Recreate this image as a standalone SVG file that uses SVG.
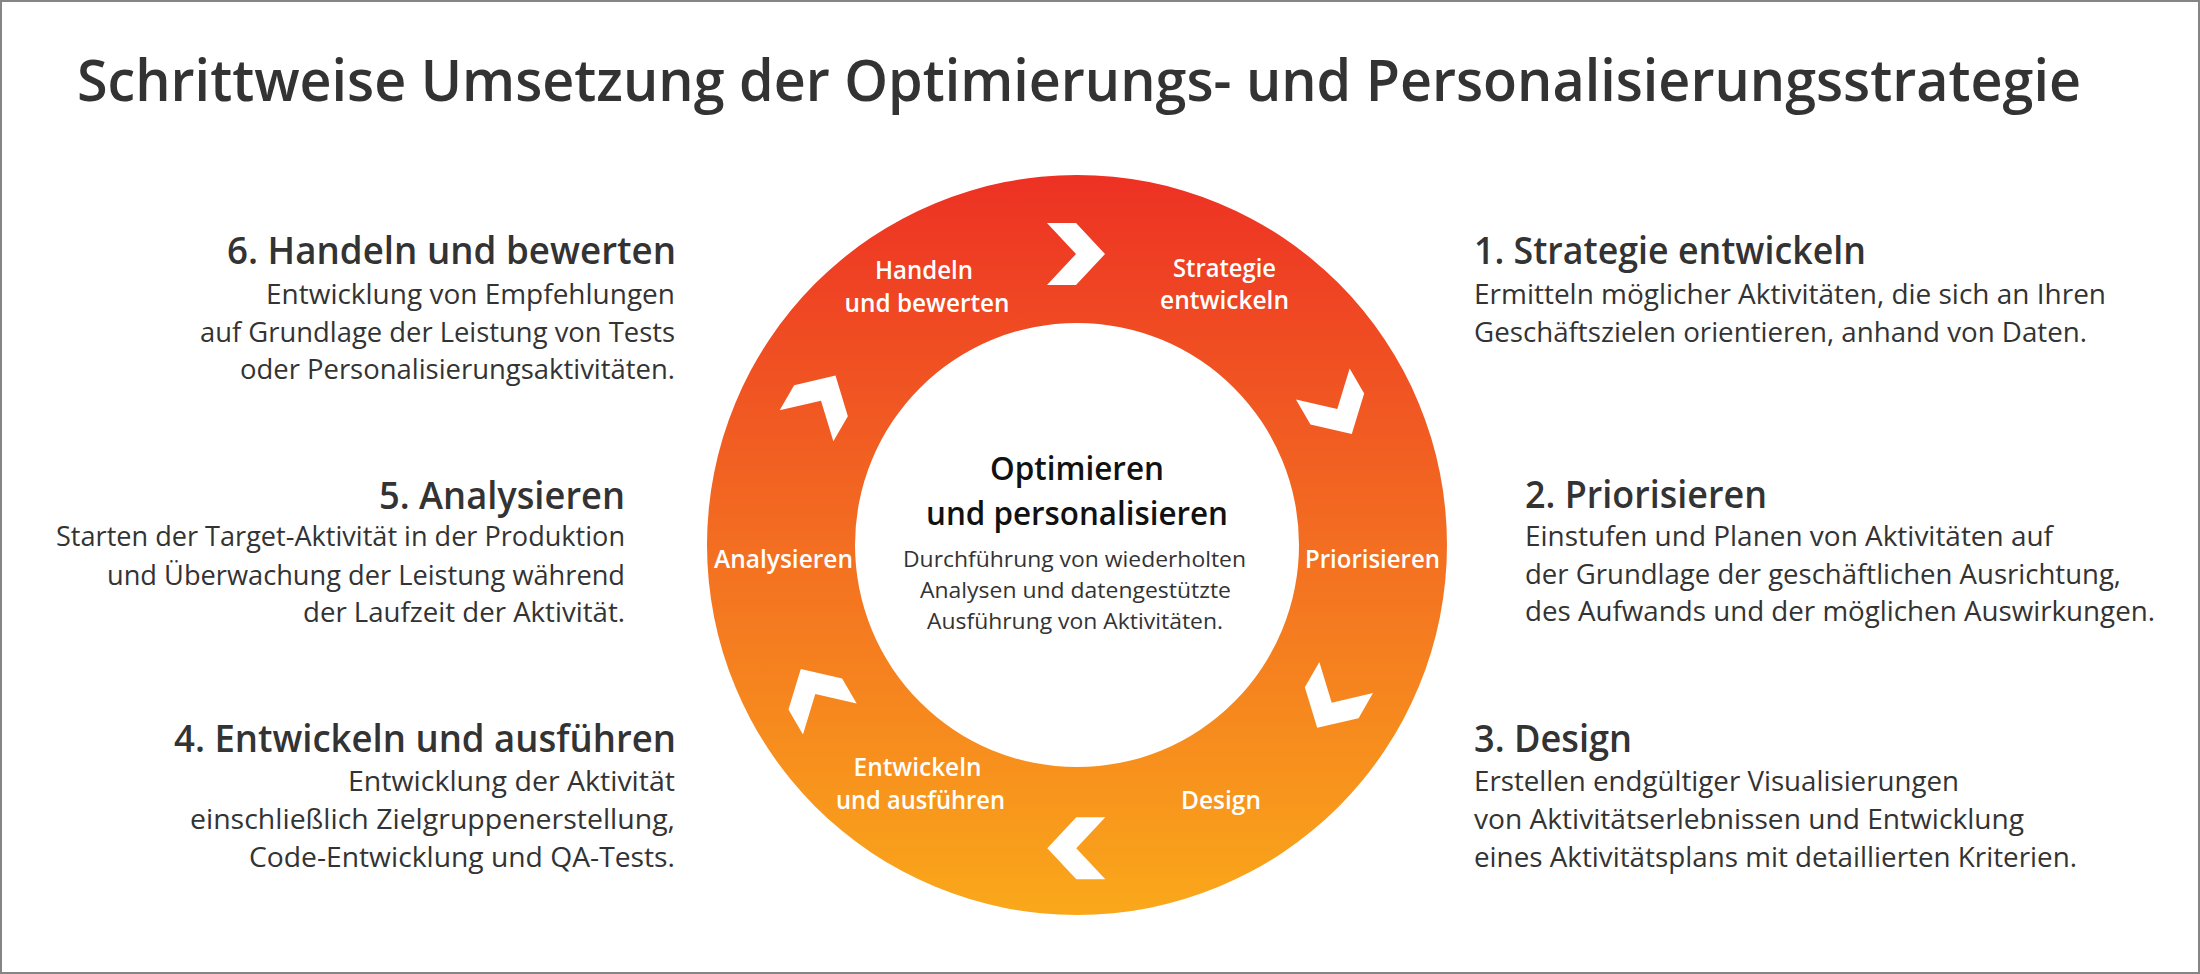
<svg xmlns="http://www.w3.org/2000/svg" width="2200" height="974" viewBox="0 0 2200 974">
  <defs>
    <linearGradient id="ringGrad" gradientUnits="userSpaceOnUse" x1="0" y1="175" x2="0" y2="915">
      <stop offset="0" stop-color="#ED3124"/>
      <stop offset="0.5" stop-color="#F36E21"/>
      <stop offset="1" stop-color="#FAA81A"/>
    </linearGradient>
    <path id="chev" d="M-29,-31 L0,-31 L29,0 L0,31 L-29,31 L0,0 Z"/>
    <style>
      text { font-family: "Open Sans", "Noto Sans", "Liberation Sans", sans-serif; }
      .title { font-size: 57px; font-weight: 600; fill: #333333; }
      .head { font-size: 37px; font-weight: 600; fill: #333333; }
      .body { font-size: 28px; font-weight: 400; fill: #333333; }
      .ring { font-size: 26px; font-weight: 600; fill: #ffffff; text-anchor: middle; }
      .ctitle { font-size: 33px; font-weight: 600; fill: #111111; text-anchor: middle; }
      .cbody { font-size: 22px; font-weight: 400; fill: #333333; text-anchor: middle; }
      .end { text-anchor: end; }
      .chev { fill: #ffffff; }
    </style>
  </defs>

  <rect x="0" y="0" width="2200" height="974" fill="#ffffff"/>
  <rect x="1" y="1" width="2198" height="972" fill="none" stroke="#858585" stroke-width="2"/>

  <g id="title">
    <text class="title" x="77" y="101" textLength="2004" lengthAdjust="spacingAndGlyphs">Schrittweise Umsetzung der Optimierungs- und Personalisierungsstrategie</text>
  </g>

  <g id="ring">
    <path fill="url(#ringGrad)" fill-rule="evenodd" d="M707,545 A370,370 0 1,0 1447,545 A370,370 0 1,0 707,545 Z M855,545 A222,222 0 1,0 1299,545 A222,222 0 1,0 855,545 Z"/>
  </g>

  <g id="center">
    <text class="ctitle" x="1077" y="480" textLength="174" lengthAdjust="spacingAndGlyphs">Optimieren</text>
    <text class="ctitle" x="1077" y="525" textLength="302" lengthAdjust="spacingAndGlyphs">und personalisieren</text>
    <text class="cbody" x="1074.5" y="567" textLength="343" lengthAdjust="spacingAndGlyphs">Durchführung von wiederholten</text>
    <text class="cbody" x="1075.5" y="598" textLength="311" lengthAdjust="spacingAndGlyphs">Analysen und datengestützte</text>
    <text class="cbody" x="1075" y="629" textLength="296" lengthAdjust="spacingAndGlyphs">Ausführung von Aktivitäten.</text>
  </g>

  <g id="step1-label">
    <text class="ring" x="1224.5" y="277" textLength="103" lengthAdjust="spacingAndGlyphs">Strategie</text>
    <text class="ring" x="1224.5" y="309" textLength="129" lengthAdjust="spacingAndGlyphs">entwickeln</text>
  </g>
  <g id="step2-label">
    <text class="ring" x="1372.5" y="568" textLength="135" lengthAdjust="spacingAndGlyphs">Priorisieren</text>
  </g>
  <g id="step3-label">
    <text class="ring" x="1221" y="809" textLength="80" lengthAdjust="spacingAndGlyphs">Design</text>
  </g>
  <g id="step4-label">
    <text class="ring" x="917.5" y="776" textLength="128" lengthAdjust="spacingAndGlyphs">Entwickeln</text>
    <text class="ring" x="920.5" y="809" textLength="169" lengthAdjust="spacingAndGlyphs">und ausführen</text>
  </g>
  <g id="step5-label">
    <text class="ring" x="783.5" y="568" textLength="139" lengthAdjust="spacingAndGlyphs">Analysieren</text>
  </g>
  <g id="step6-label">
    <text class="ring" x="924" y="279" textLength="98" lengthAdjust="spacingAndGlyphs">Handeln</text>
    <text class="ring" x="927" y="312" textLength="165" lengthAdjust="spacingAndGlyphs">und bewerten</text>
  </g>

  <g id="connectors">
    <use href="#chev" class="chev" transform="translate(1076,254)"/>
    <use href="#chev" class="chev" transform="translate(1337.3,409) rotate(60)"/>
    <use href="#chev" class="chev" transform="translate(1331.7,702.7) rotate(120)"/>
    <use href="#chev" class="chev" transform="translate(1076.3,848.3) rotate(180)"/>
    <use href="#chev" class="chev" transform="translate(815.3,694) rotate(240)"/>
    <use href="#chev" class="chev" transform="translate(821,400.7) rotate(300)"/>
  </g>

  <g id="step1-text">
    <text class="head" x="1474" y="264" textLength="392" lengthAdjust="spacingAndGlyphs">1. Strategie entwickeln</text>
    <text class="body" x="1474" y="304" textLength="632" lengthAdjust="spacingAndGlyphs">Ermitteln möglicher Aktivitäten, die sich an Ihren</text>
    <text class="body" x="1474" y="342" textLength="613" lengthAdjust="spacingAndGlyphs">Geschäftszielen orientieren, anhand von Daten.</text>
  </g>
  <g id="step2-text">
    <text class="head" x="1525" y="508" textLength="242" lengthAdjust="spacingAndGlyphs">2. Priorisieren</text>
    <text class="body" x="1525" y="546" textLength="528" lengthAdjust="spacingAndGlyphs">Einstufen und Planen von Aktivitäten auf</text>
    <text class="body" x="1525" y="584" textLength="596" lengthAdjust="spacingAndGlyphs">der Grundlage der geschäftlichen Ausrichtung,</text>
    <text class="body" x="1525" y="621" textLength="630" lengthAdjust="spacingAndGlyphs">des Aufwands und der möglichen Auswirkungen.</text>
  </g>
  <g id="step3-text">
    <text class="head" x="1474" y="752" textLength="158" lengthAdjust="spacingAndGlyphs">3. Design</text>
    <text class="body" x="1474" y="791" textLength="485" lengthAdjust="spacingAndGlyphs">Erstellen endgültiger Visualisierungen</text>
    <text class="body" x="1474" y="829" textLength="550" lengthAdjust="spacingAndGlyphs">von Aktivitätserlebnissen und Entwicklung</text>
    <text class="body" x="1474" y="867" textLength="603" lengthAdjust="spacingAndGlyphs">eines Aktivitätsplans mit detaillierten Kriterien.</text>
  </g>
  <g id="step4-text">
    <text class="head end" x="676" y="752" textLength="502" lengthAdjust="spacingAndGlyphs">4. Entwickeln und ausführen</text>
    <text class="body end" x="675" y="791" textLength="327" lengthAdjust="spacingAndGlyphs">Entwicklung der Aktivität</text>
    <text class="body end" x="675" y="829" textLength="485" lengthAdjust="spacingAndGlyphs">einschließlich Zielgruppenerstellung,</text>
    <text class="body end" x="675" y="867" textLength="426" lengthAdjust="spacingAndGlyphs">Code-Entwicklung und QA-Tests.</text>
  </g>
  <g id="step5-text">
    <text class="head end" x="625" y="509" textLength="246" lengthAdjust="spacingAndGlyphs">5. Analysieren</text>
    <text class="body end" x="625" y="546" textLength="569" lengthAdjust="spacingAndGlyphs">Starten der Target-Aktivität in der Produktion</text>
    <text class="body end" x="625" y="585" textLength="518" lengthAdjust="spacingAndGlyphs">und Überwachung der Leistung während</text>
    <text class="body end" x="625" y="622" textLength="322" lengthAdjust="spacingAndGlyphs">der Laufzeit der Aktivität.</text>
  </g>
  <g id="step6-text">
    <text class="head end" x="676" y="264" textLength="449" lengthAdjust="spacingAndGlyphs">6. Handeln und bewerten</text>
    <text class="body end" x="675" y="304" textLength="409" lengthAdjust="spacingAndGlyphs">Entwicklung von Empfehlungen</text>
    <text class="body end" x="675" y="342" textLength="475" lengthAdjust="spacingAndGlyphs">auf Grundlage der Leistung von Tests</text>
    <text class="body end" x="675" y="379" textLength="435" lengthAdjust="spacingAndGlyphs">oder Personalisierungsaktivitäten.</text>
  </g>
</svg>
